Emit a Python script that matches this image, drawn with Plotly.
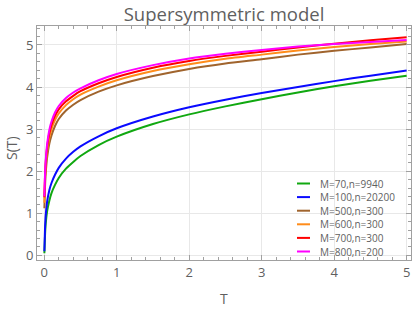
import plotly.graph_objects as go

# ---- data ----
T = [0.002, 0.01, 0.02, 0.04, 0.07, 0.1, 0.15, 0.2, 0.3, 0.4, 0.5, 0.75,
     1, 1.5, 2, 2.5, 3, 3.5, 4, 4.5, 5]

S_M70 = [0.05, 0.45, 0.75, 1.05, 1.3, 1.48, 1.68, 1.84, 2.06, 2.22, 2.36, 2.62,
         2.82, 3.12, 3.35, 3.54, 3.71, 3.87, 4.02, 4.15, 4.27]
S_M100 = [0.1, 0.6, 0.95, 1.28, 1.55, 1.72, 1.92, 2.08, 2.3, 2.46, 2.59, 2.83,
          3.02, 3.3, 3.52, 3.7, 3.86, 4.0, 4.14, 4.27, 4.39]
S_M500 = [1.12, 1.6, 1.95, 2.33, 2.65, 2.85, 3.08, 3.24, 3.44, 3.58, 3.69, 3.89,
          4.04, 4.26, 4.43, 4.56, 4.66, 4.77, 4.86, 4.94, 5.02]
S_M600 = [1.25, 1.75, 2.1, 2.48, 2.8, 3.0, 3.22, 3.37, 3.57, 3.71, 3.82, 4.01,
          4.16, 4.38, 4.54, 4.67, 4.77, 4.87, 4.95, 5.02, 5.08]
S_M700 = [1.38, 1.85, 2.2, 2.58, 2.9, 3.1, 3.32, 3.47, 3.66, 3.79, 3.9, 4.09,
          4.24, 4.46, 4.62, 4.74, 4.84, 4.94, 5.03, 5.11, 5.18]
S_M800 = [1.40, 1.9, 2.25, 2.65, 2.98, 3.18, 3.40, 3.55, 3.74, 3.87, 3.97, 4.16,
          4.31, 4.52, 4.68, 4.79, 4.88, 4.96, 5.02, 5.07, 5.12]

labels = ["M=70,n=9940", "M=100,n=20200", "M=500,n=300",
          "M=600,n=300", "M=700,n=300", "M=800,n=200"]
series = [S_M70, S_M100, S_M500, S_M600, S_M700, S_M800]
colors = ["#10a810", "#0a0aff", "#a0642d", "#ff8c1a", "#ff0000", "#ff00ff"]

x_ticks = [0, 1, 2, 3, 4, 5]
y_ticks = [0, 1, 2, 3, 4, 5]

# ---- figure ----
W, H = 415, 310
ML, MR, MT, MB = 37, 4, 26, 50
font_family = "'Open Sans', sans-serif"
grey = "#5f5f5f"

fig = go.Figure()
for name, s, c in zip(labels, series, colors):
    fig.add_trace(go.Scatter(x=T, y=s, mode="lines", name=name,
                             line=dict(color=c, width=2, shape="spline", smoothing=0.6),
                             showlegend=False))

pw = W - ML - MR
ph = H - MT - MB
def px2paper_x(px):
    return (px - ML) / pw
def px2paper_y(py):
    return (H - MB - py) / ph

# compact legend, as in the reference
row0, step = 183.5, 13.6
for i, (name, c) in enumerate(zip(labels, colors)):
    yy = px2paper_y(row0 + i * step)
    fig.add_shape(type="line", xref="paper", yref="paper",
                  x0=px2paper_x(297), x1=px2paper_x(310), y0=yy, y1=yy,
                  line=dict(color=c, width=2))
    fig.add_annotation(xref="paper", yref="paper", x=px2paper_x(318), y=yy,
                       text=name, showarrow=False, xanchor="left", yanchor="middle",
                       font=dict(size=10, color=grey, family=font_family))

# axis titles
fig.add_annotation(xref="paper", yref="paper", x=px2paper_x(224), y=px2paper_y(298),
                   text="T", showarrow=False, xanchor="center", yanchor="middle",
                   font=dict(size=14, color=grey, family=font_family))
fig.add_annotation(xref="paper", yref="paper", x=px2paper_x(11), y=px2paper_y(148),
                   text="S(T)", showarrow=False, textangle=-90,
                   xanchor="center", yanchor="middle",
                   font=dict(size=14, color=grey, family=font_family))

axis_common = dict(
    showline=True, linecolor="#a0a0a0", linewidth=1, mirror="ticks",
    ticks="inside", ticklen=5, tickcolor="#a0a0a0", tickwidth=1,
    showgrid=True, gridcolor="#e8e8e8", gridwidth=1,
    zeroline=False, automargin=False,
    tickfont=dict(size=13, color=grey, family=font_family),
)

fig.update_layout(
    width=W, height=H,
    margin=dict(l=ML, r=MR, t=MT, b=MB),
    paper_bgcolor="white", plot_bgcolor="white",
    title=dict(text="Supersymmetric model", x=(ML + pw / 2) / W, xanchor="center",
               y=1 - 14.5 / H, yanchor="middle",
               font=dict(size=18.5, color=grey, family=font_family)),
    xaxis=dict(range=[-0.1, 5.06], tickmode="array", tickvals=x_ticks,
               minor=dict(dtick=0.2, ticks="inside", ticklen=3, tickcolor="#a0a0a0", showgrid=False),
               **axis_common),
    yaxis=dict(range=[-0.11, 5.45], tickmode="array", tickvals=y_ticks,
               minor=dict(dtick=0.2, ticks="inside", ticklen=3, tickcolor="#a0a0a0", showgrid=False),
               **axis_common),
)

fig.write_html("out.html", config={"displayModeBar": False},
               post_script="document.body.style.margin='0';")
